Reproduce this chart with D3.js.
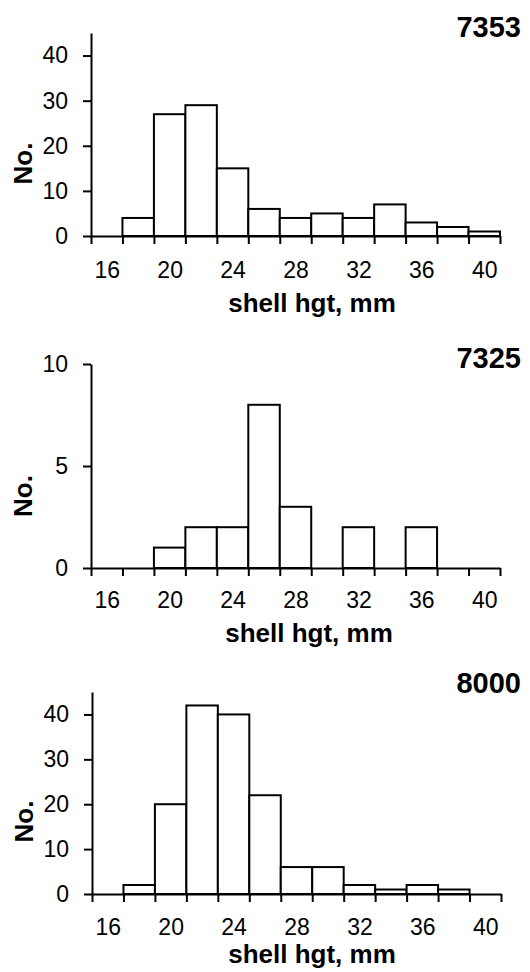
<!DOCTYPE html>
<html>
<head>
<meta charset="utf-8">
<script src="https://cdn.jsdelivr.net/npm/d3@7"></script>
<style>
  html, body { margin: 0; padding: 0; background: #fff; }
  svg { display: block; }
  text { font-family: "Liberation Sans", Arial, sans-serif; fill: #000; }
</style>
</head>
<body>
<svg id="chart" width="530" height="972"></svg>
<script>
// ---- data ----
const bins = [16, 18, 20, 22, 24, 26, 28, 30, 32, 34, 36, 38, 40];
const xTickLabels = [16, 20, 24, 28, 32, 36, 40];
const titles = ["7353", "7325", "8000"];
const counts7353 = [0, 4, 27, 29, 15, 6, 4, 5, 4, 7, 3, 2, 1];
const counts7325 = [0, 0, 1, 2, 2, 8, 3, 0, 2, 0, 2, 0, 0];
const counts8000 = [0, 2, 20, 42, 40, 22, 6, 6, 2, 1, 2, 1, 0];
const yMax = [45, 10, 45];
const yTicks7353 = [0, 10, 20, 30, 40];
const yTicks7325 = [0, 5, 10];
const yTicks8000 = [0, 10, 20, 30, 40];
const yLabel = "No.";
const xLabel = "shell hgt, mm";

// ---- layout ----
const panels = [
  { counts: counts7353, ticks: yTicks7353, max: yMax[0], title: titles[0],
    left: 91, right: 500, y0: 236, yTop: 33, titleY: 37, noY: 163.5, noX: 32, xtY: 311.5, xtX: 312, lblPad: 26 },
  { counts: counts7325, ticks: yTicks7325, max: yMax[1], title: titles[1],
    left: 91, right: 500, y0: 568, yTop: 364, titleY: 368, noY: 496, noX: 32, xtY: 641.5, xtX: 309, lblPad: 24 },
  { counts: counts7325 === null ? null : counts8000, ticks: yTicks8000, max: yMax[2], title: titles[2],
    left: 92, right: 501, y0: 894, yTop: 692, titleY: 693, noY: 821.5, noX: 33, xtY: 962.5, xtX: 312, lblPad: 25 }
];

const svg = d3.select("#chart");
const binHalf = (bins[1] - bins[0]) / 2;
const edges = bins.map(b => b - binHalf).concat([bins[bins.length - 1] + binHalf]);

panels.forEach(p => {
  const g = svg.append("g");
  const x = d3.scaleLinear()
    .domain([edges[0], edges[edges.length - 1]])
    .range([p.left, p.right]);
  const y = d3.scaleLinear().domain([0, p.max]).range([p.y0, p.yTop]);

  // bars
  const data = bins.map((b, i) => ({ b, v: p.counts[i] })).filter(d => d.v > 0);
  g.selectAll("rect.bar").data(data).join("rect")
    .attr("class", "bar")
    .attr("x", d => x(d.b - binHalf))
    .attr("width", d => x(d.b + binHalf) - x(d.b - binHalf))
    .attr("y", d => y(d.v))
    .attr("height", d => y(0) - y(d.v))
    .attr("fill", "#fff")
    .attr("stroke", "#000")
    .attr("stroke-width", 2);

  // x axis: tick marks at bin edges
  const xAxis = g.append("g")
    .attr("transform", `translate(0,${p.y0})`)
    .call(d3.axisBottom(x).tickValues(edges).tickSize(8).tickSizeOuter(0).tickFormat(""));
  xAxis.select(".domain").attr("stroke-width", 2);
  xAxis.selectAll(".tick line").attr("stroke-width", 2);

  // x axis: labels at bin centers
  const xLab = g.append("g")
    .attr("transform", `translate(0,${p.y0})`)
    .call(d3.axisBottom(x).tickValues(xTickLabels).tickSize(0).tickPadding(p.lblPad));
  xLab.select(".domain").remove();
  xLab.selectAll("text").attr("font-size", 23).attr("font-family", "Liberation Sans, Arial, sans-serif");

  // y axis
  const yAxis = g.append("g")
    .attr("transform", `translate(${p.left},0)`)
    .call(d3.axisLeft(y).tickValues(p.ticks).tickSize(8).tickSizeOuter(0).tickPadding(15));
  yAxis.select(".domain").attr("stroke-width", 2);
  yAxis.selectAll(".tick line").attr("stroke-width", 2);
  yAxis.selectAll("text").attr("font-size", 23).attr("font-family", "Liberation Sans, Arial, sans-serif");

  // titles
  g.append("text")
    .attr("x", 521).attr("y", p.titleY)
    .attr("text-anchor", "end")
    .attr("font-size", 29).attr("font-weight", "bold")
    .text(p.title);

  g.append("text")
    .attr("transform", `translate(${p.noX},${p.noY}) rotate(-90)`)
    .attr("text-anchor", "middle")
    .attr("font-size", 26).attr("font-weight", "bold")
    .text(yLabel);

  g.append("text")
    .attr("x", p.xtX).attr("y", p.xtY)
    .attr("text-anchor", "middle")
    .attr("font-size", 26).attr("font-weight", "bold")
    .text(xLabel);
});
</script>
</body>
</html>
